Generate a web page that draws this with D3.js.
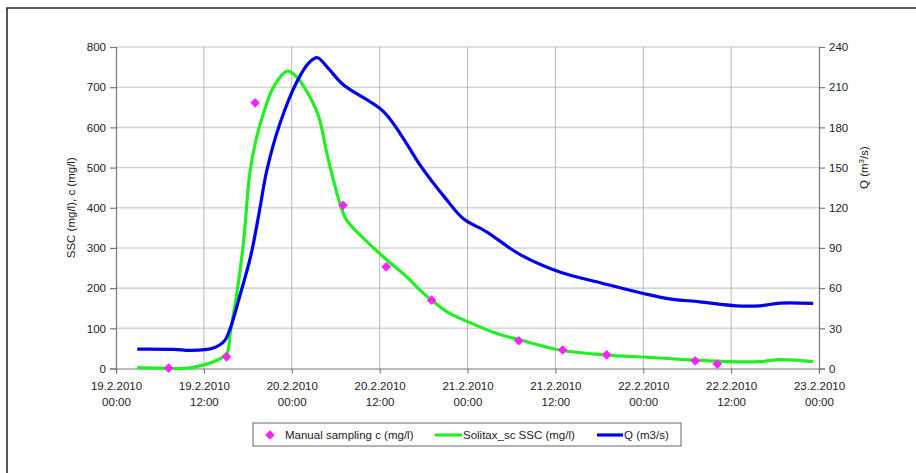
<!DOCTYPE html>
<html>
<head>
<meta charset="utf-8">
<script src="https://cdn.jsdelivr.net/npm/d3@7"></script>
<style>
  body { margin: 0; background: #fff; }
  svg { display: block; font-family: "Liberation Sans", Arial, sans-serif; }
</style>
</head>
<body>
<div id="chart"></div>
<script>
// hours after 19.2.2010 00:00
var qHours = [2.9, 7.9, 10.2, 13.3, 14.8, 15.6, 17.0, 18.4, 19.6, 20.6, 22.4, 24.7, 26.3, 27.5, 29.0, 31.0, 36.5, 39.2, 41.5, 45.0, 47.4, 50.6, 55.2, 60.6, 66.5, 72.0, 75.6, 79.7, 84.7, 87.9, 90.7, 95.2];
var qValues = [14.5, 14.3, 13.5, 15.3, 20.5, 30, 56, 84, 118, 148, 183, 214, 228, 232, 224, 212, 192, 172, 152, 127, 112, 102, 85, 72, 63.5, 56, 52, 49.8, 46.8, 46.8, 48.8, 48.6];

var ssHours = [2.9, 7.0, 9.3, 12.0, 14.3, 15.2, 15.6, 16.5, 17.4, 18.3, 19.2, 20.2, 21.5, 23.4, 24.7, 26.5, 27.7, 28.8, 29.7, 30.6, 31.5, 34.3, 37.0, 39.7, 41.5, 43.1, 45.2, 48.1, 52.0, 55.2, 60.6, 67.0, 72.5, 78.8, 83.4, 87.9, 90.7, 95.2];
var ssValues = [2, 0.5, 0, 9, 25, 40, 87, 187, 311, 490, 575, 638, 700, 740, 725, 675, 626, 535, 468, 410, 369, 315, 270, 228, 195, 170, 141, 116, 87, 71, 46, 33.5, 28, 21, 17, 17, 22, 17];

var sampleHours = [7.2, 15.1, 19.0, 31.0, 36.9, 43.1, 55.0, 61.0, 67.0, 79.1, 82.1];
var sampleValues = [1, 29, 661, 406, 253, 170, 69, 46, 34, 19, 11];

var leftTicks = [0, 100, 200, 300, 400, 500, 600, 700, 800];
var rightTicks = [0, 30, 60, 90, 120, 150, 180, 210, 240];
var legendLabels = ["Manual sampling c (mg/l)", "Solitax_sc SSC (mg/l)", "Q (m3/s)"];

var width = 916, height = 473;
var margin = {left: 116, right: 97, top: 47, bottom: 104};
var start = new Date(2010, 1, 19, 0, 0);
var end = new Date(2010, 1, 23, 0, 0);
function toDate(h) { return new Date(start.getTime() + h * 3600e3); }

var svg = d3.select('#chart').append('svg')
  .attr('width', width)
  .attr('height', height);

// outer frame
svg.append('rect')
  .attr('x', 7).attr('y', 8)
  .attr('width', 920).attr('height', 480)
  .attr('fill', 'none').attr('stroke', '#222').attr('stroke-width', 1.5);

var x = d3.scaleTime().domain([start, end]).range([margin.left, width - margin.right]);
var yL = d3.scaleLinear().domain([0, 800]).range([height - margin.bottom - 0.5, margin.top]);
var yR = d3.scaleLinear().domain([0, 240]).range(yL.range());

var xTicks = d3.timeHour.every(12).range(start, d3.timeHour.offset(end, 1));

// grid
var grid = svg.append('g');
grid.selectAll('line.h').data(leftTicks.slice(1)).enter().append('line')
  .attr('x1', x.range()[0]).attr('x2', x.range()[1])
  .attr('y1', yL).attr('y2', yL)
  .attr('stroke', '#d4d4d4').attr('stroke-width', 1.6);
grid.selectAll('line.v').data(xTicks.slice(1, -1)).enter().append('line')
  .attr('x1', x).attr('x2', x)
  .attr('y1', yL.range()[0]).attr('y2', yL.range()[1])
  .attr('stroke', '#b8b8b8').attr('stroke-width', 1);

// axes
var fmtDate = d3.timeFormat('%-d.%-m.%Y'), fmtTime = d3.timeFormat('%H:%M');
var gx = svg.append('g')
  .attr('transform', 'translate(0,' + yL.range()[0] + ')')
  .call(d3.axisBottom(x).tickValues(xTicks).tickSize(5).tickFormat(''));
gx.selectAll('.tick').each(function(d) {
  var t = d3.select(this).append('text')
    .attr('fill', '#222').attr('font-size', 11.5).attr('text-anchor', 'middle');
  t.append('tspan').attr('x', 0).attr('y', 21).text(fmtDate(d));
  t.append('tspan').attr('x', 0).attr('y', 37).text(fmtTime(d));
});

var gl = svg.append('g')
  .attr('transform', 'translate(' + margin.left + ',0)')
  .call(d3.axisLeft(yL).tickValues(leftTicks).tickSize(6).tickPadding(4));
var gr = svg.append('g')
  .attr('transform', 'translate(' + (width - margin.right) + ',0)')
  .call(d3.axisRight(yR).tickValues(rightTicks).tickSize(6).tickPadding(4));

[gx, gl, gr].forEach(function(g) {
  g.selectAll('.domain, line').attr('stroke', '#777').attr('stroke-width', 1.2);
  g.selectAll('text').attr('fill', '#222').attr('font-size', 11.5);
});

svg.append('text')
  .attr('transform', 'translate(75,' + yL(400) + ') rotate(-90)')
  .attr('text-anchor', 'middle').attr('font-size', 11.5).attr('fill', '#222')
  .text('SSC (mg/l), c (mg/l)');
var qt = svg.append('text')
  .attr('transform', 'translate(868,' + yL(500) + ') rotate(-90)')
  .attr('text-anchor', 'middle').attr('font-size', 11.5).attr('fill', '#222');
qt.append('tspan').text('Q (m');
qt.append('tspan').attr('dy', -4).attr('font-size', 8).text('3');
qt.append('tspan').attr('dy', 4).text('/s)');

// series
var lineQ = d3.line()
  .x(function(d, i) { return x(toDate(qHours[i])); })
  .y(function(d) { return yR(d); })
  .curve(d3.curveCatmullRom.alpha(0.5));
var lineS = d3.line()
  .x(function(d, i) { return x(toDate(ssHours[i])); })
  .y(function(d) { return yL(d); })
  .curve(d3.curveCatmullRom.alpha(0.5));

svg.append('path').datum(ssValues)
  .attr('d', lineS).attr('fill', 'none')
  .attr('stroke', '#22ee22').attr('stroke-width', 3.2).attr('stroke-linejoin', 'round');
svg.append('path').datum(qValues)
  .attr('d', lineQ).attr('fill', 'none')
  .attr('stroke', '#0000ee').attr('stroke-width', 3.2).attr('stroke-linejoin', 'round');

var diamond = d3.symbol().type(d3.symbolDiamond2).size(60);
svg.selectAll('path.pt').data(sampleValues).enter().append('path')
  .attr('class', 'pt')
  .attr('d', diamond)
  .attr('fill', '#ff22ff')
  .attr('transform', function(d, i) {
    return 'translate(' + x(toDate(sampleHours[i])) + ',' + yL(d) + ')';
  });

// legend
var lg = svg.append('g');
lg.append('rect')
  .attr('x', 253).attr('y', 423).attr('width', 428).attr('height', 23)
  .attr('fill', '#fff').attr('stroke', '#666').attr('stroke-width', 1);
lg.append('path').attr('d', diamond)
  .attr('transform', 'translate(270,435)').attr('fill', '#ff22ff');
lg.append('line').attr('x1', 435).attr('x2', 462).attr('y1', 435).attr('y2', 435)
  .attr('stroke', '#22ee22').attr('stroke-width', 3.2);
lg.append('line').attr('x1', 597).attr('x2', 623).attr('y1', 435).attr('y2', 435)
  .attr('stroke', '#0000ee').attr('stroke-width', 3.2);
var lx = [285, 463, 624];
lg.selectAll('text').data(legendLabels).enter().append('text')
  .attr('x', function(d, i) { return lx[i]; })
  .attr('y', 439)
  .attr('font-size', 11.5).attr('fill', '#222')
  .text(function(d) { return d; });
</script>
</body>
</html>
